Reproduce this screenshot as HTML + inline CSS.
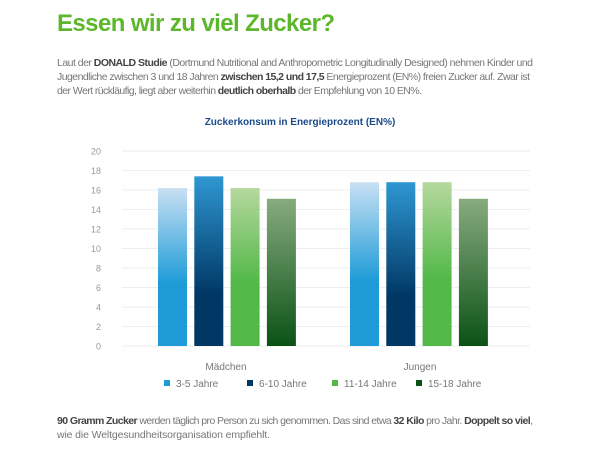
<!DOCTYPE html>
<html><head><meta charset="utf-8"><style>
html,body{margin:0;padding:0;background:#fff;}
svg{display:block;font-family:"Liberation Sans",sans-serif;}
</style></head><body>
<svg width="600" height="457" viewBox="0 0 600 457">
<defs>
<linearGradient id="g0" x1="0" y1="0" x2="0" y2="1"><stop offset="0" stop-color="#c8e0f3"/><stop offset="0.6" stop-color="#1f9cd8"/><stop offset="1" stop-color="#1f9cd8"/></linearGradient>
<linearGradient id="g1" x1="0" y1="0" x2="0" y2="1"><stop offset="0" stop-color="#2f97d2"/><stop offset="0.7" stop-color="#003764"/><stop offset="1" stop-color="#003764"/></linearGradient>
<linearGradient id="g2" x1="0" y1="0" x2="0" y2="1"><stop offset="0" stop-color="#b6d89e"/><stop offset="0.6" stop-color="#52b848"/><stop offset="1" stop-color="#52b848"/></linearGradient>
<linearGradient id="g3" x1="0" y1="0" x2="0" y2="1"><stop offset="0" stop-color="#87ab7d"/><stop offset="1" stop-color="#0b5217"/></linearGradient>
</defs>
<text x="57" y="31" font-size="24" font-weight="bold" fill="#5cb82a" textLength="278">Essen wir zu viel Zucker?</text>
<g font-size="10.5" fill="#777">
<text x="57" y="66" textLength="476">Laut der <tspan font-weight="bold" fill="#444">DONALD Studie</tspan> (Dortmund Nutritional and Anthropometric Longitudinally Designed) nehmen Kinder und</text>
<text x="57" y="80" textLength="473">Jugendliche zwischen 3 und 18 Jahren <tspan font-weight="bold" fill="#444">zwischen 15,2 und 17,5</tspan> Energieprozent (EN%) freien Zucker auf. Zwar ist</text>
<text x="57" y="94" textLength="365">der Wert rückläufig, liegt aber weiterhin <tspan font-weight="bold" fill="#444">deutlich oberhalb</tspan> der Empfehlung von 10 EN%.</text>
</g>
<text x="300" y="125" font-size="10" font-weight="bold" fill="#1a4a8a" text-anchor="middle">Zuckerkonsum in Energieprozent (EN%)</text>
<g id="grid"></g><g id="bars"></g>
<g font-size="10" fill="#777">
<text x="226" y="370" text-anchor="middle">Mädchen</text>
<text x="420" y="370" text-anchor="middle">Jungen</text>
</g>
<g id="legend" font-size="10" fill="#777"></g>
<g font-size="10.5" fill="#777">
<text x="57" y="424" textLength="476"><tspan font-weight="bold" fill="#444">90 Gramm Zucker</tspan> werden täglich pro Person zu sich genommen. Das sind etwa <tspan font-weight="bold" fill="#444">32 Kilo</tspan> pro Jahr. <tspan font-weight="bold" fill="#444">Doppelt so viel</tspan>,</text>
<text x="57" y="438" textLength="213">wie die Weltgesundheitsorganisation empfiehlt.</text>
</g>
</svg>
<script>
const categories=["Mädchen","Jungen"];
const series=["3-5 Jahre","6-10 Jahre","11-14 Jahre","15-18 Jahre"];
const values=[[16.2,16.8],[17.4,16.8],[16.2,16.8],[15.1,15.1]];
const ticks=[0,2,4,6,8,10,12,14,16,18,20];
const ns="http://www.w3.org/2000/svg";
const y0=346,y1=151,vmax=20;
const y=v=>y0-(y0-y1)*v/vmax;
const groupStart=[158,350],step=36.3,bw=29;
const legendColors=["#1f9cd8","#003764","#52b848","#0b5217"];
function mk(t,a,p){const e=document.createElementNS(ns,t);for(const k in a)e.setAttribute(k,a[k]);p.appendChild(e);return e;}
const grid=document.getElementById('grid');
ticks.forEach(t=>{
 const l=mk('line',{x1:122,x2:530,y1:y(t),y2:y(t),stroke:'#eee','stroke-width':1},grid);
 
 
 const tx=mk('text',{x:101,y:y(t)+3.5,'text-anchor':'end','font-size':9,fill:'#999'},grid);
 
 
 tx.textContent=t;
});
const bars=document.getElementById('bars');
categories.forEach((c,ci)=>{series.forEach((s,si)=>{
 const v=values[si][ci];
 const r=mk('rect',{x:groupStart[ci]+si*step,y:y(v),width:bw,height:y0-y(v),fill:`url(#g${si})`},bars);
 
 
});});
const lg=document.getElementById('legend');
const lx=[164,247,332,416];
series.forEach((s,i)=>{
 const r=mk('rect',{x:lx[i],y:380,width:6,height:6,fill:legendColors[i]},lg);
 
 
 const t=mk('text',{x:lx[i]+12,y:387},lg);
 
 
 t.textContent=s;
});
</script>
</body></html>
